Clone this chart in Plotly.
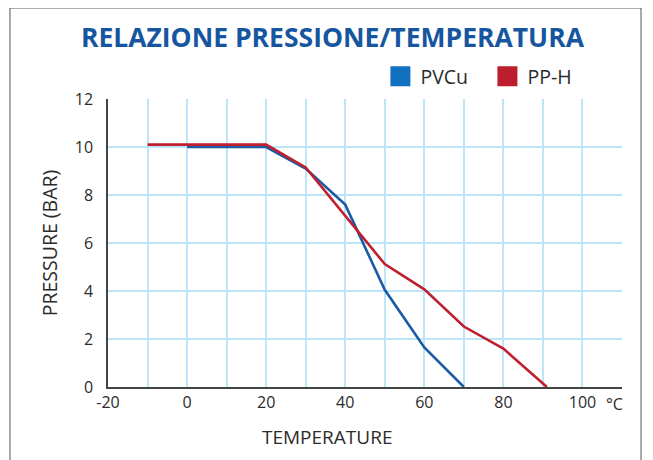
import plotly.graph_objects as go

pvcu_temp = [0, 20, 30, 40, 50, 60, 70]
pvcu_pressure = [10.0, 10.0, 9.1, 7.6, 4.05, 1.65, 0]

pph_temp = [-10, 20, 30, 50, 60, 70, 80, 91]
pph_pressure = [10.1, 10.1, 9.15, 5.12, 4.07, 2.52, 1.6, 0]

x_tickvals = [-20, -10, 0, 10, 20, 30, 40, 50, 60, 70, 80, 90, 100, 110]
x_ticktext = ["-20", "", "0", "", "20", "", "40", "", "60", "", "80", "", "100", ""]
y_tickvals = [0, 2, 4, 6, 8, 10, 12]
unit_label = "°C"

blue_line = "#1b5aa5"
red_line = "#c01f2e"
blue_leg = "#1271be"
red_leg = "#bd1e2d"
grid = "#bde5f8"
txt = "#2b2b2b"
FONT = "Open Sans"

fig = go.Figure()
fig.add_trace(go.Scatter(x=pvcu_temp, y=pvcu_pressure, mode="lines",
                         line=dict(color=blue_line, width=2.6), showlegend=False,
                         legendgroup="a", cliponaxis=False))
fig.add_trace(go.Scatter(x=pph_temp, y=pph_pressure, mode="lines",
                         line=dict(color=red_line, width=2.6), showlegend=False,
                         legendgroup="b", cliponaxis=False))
fig.add_trace(go.Scatter(x=[None], y=[None], mode="markers", name="PVCu",
                         marker=dict(symbol="square", size=16, color=blue_leg,
                                     line=dict(color=blue_leg, width=4)), legendgroup="a"))
fig.add_trace(go.Scatter(x=[None], y=[None], mode="markers", name="PP-H",
                         marker=dict(symbol="square", size=16, color=red_leg,
                                     line=dict(color=red_leg, width=4)), legendgroup="b"))

fig.update_layout(
    width=645, height=452,
    margin=dict(l=100, r=31, t=91, b=73),
    paper_bgcolor="white", plot_bgcolor="white",
    font=dict(family=FONT, color=txt, size=16),
    title=dict(text="<b>RELAZIONE PRESSIONE/TEMPERATURA</b>", x=0.503, xanchor="center",
               y=0.934, yanchor="middle",
               font=dict(family=FONT, size=26.5, color="#1656a0")),
    showlegend=True,
    legend=dict(orientation="h", x=0.53, y=1.078, xanchor="left", yanchor="middle",
                font=dict(size=19.5, color=txt), itemsizing="trace",
                bgcolor="rgba(0,0,0,0)", tracegroupgap=0, itemwidth=30,
                entrywidth=62, entrywidthmode="pixels"),
    xaxis=dict(range=[-20, 110], tickmode="array", tickvals=x_tickvals, ticktext=x_ticktext,
               showgrid=True, gridcolor=grid, gridwidth=1.8, zeroline=False,
               showline=True, linecolor="#444", linewidth=1.5, ticks="",
               tickfont=dict(size=16, color=txt)),
    yaxis=dict(range=[0, 12], tickmode="array", tickvals=y_tickvals,
               showgrid=True, gridcolor=grid, gridwidth=1.8, zeroline=False,
               showline=True, linecolor="#444", linewidth=1.5, ticks="",
               ticklabelstandoff=10,
               tickfont=dict(size=16, color=txt),
               title=dict(text="PRESSURE (BAR)", standoff=12, font=dict(size=19.5, color=txt))),
    shapes=[dict(type="rect", xref="paper", yref="paper",
                 x0=-0.1907, x1=1.037, y0=-0.3, y1=1.316,
                 line=dict(color="#555", width=1), fillcolor="rgba(0,0,0,0)", layer="below")],
    annotations=[
        dict(text="TEMPERATURE", xref="paper", yref="paper",
             x=(327 - 108) / 514, y=(387 - 437) / 288, xanchor="center", yanchor="middle",
             showarrow=False, font=dict(size=19, color=txt)),
        dict(text=unit_label, xref="x", yref="paper", x=108, y=(387 - 404) / 288,
             xanchor="center", yanchor="middle", showarrow=False,
             font=dict(size=16, color=txt)),
    ],
)

fig.write_html("out.html")
